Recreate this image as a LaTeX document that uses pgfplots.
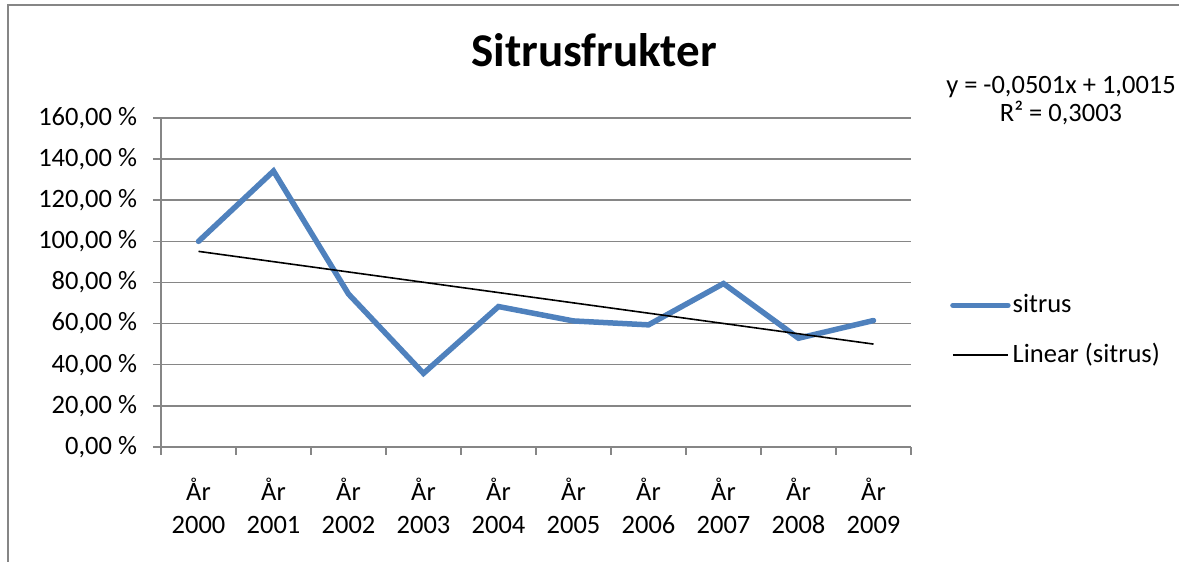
\documentclass[border=0pt]{standalone}
\usepackage{fontspec}
\setmainfont{Carlito}
\usepackage{pgfplots}
\pgfplotsset{compat=1.18}
\definecolor{exblue}{HTML}{4F81BD}
\definecolor{exgray}{HTML}{868686}
\begin{document}
\fontsize{26.5pt}{31pt}\selectfont
\begin{tikzpicture}[x=1pt,y=1pt]
\useasboundingbox (0,0) rectangle (1179,562);
\draw[exgray, line width=2pt] (8,0) -- (8,557) -- (1179,557);
\node[font=\fontsize{47pt}{56pt}\selectfont\bfseries, anchor=base] at (594,495) {Sitrusfrukter};
\node[anchor=base] at (1061,468) {y = -0,0501x + 1,0015};
\node[anchor=base] at (1061,440.5) {R² = 0,3003};
\begin{axis}[
  at={(161pt,115pt)}, anchor=south west,
  scale only axis, width=750pt, height=329pt,
  xmin=0.5, xmax=10.5, ymin=0, ymax=160,
  axis x line=bottom, axis y line=left,
  axis line style={exgray, line width=1.5pt, -},
  xtick={0.5,1.5,...,10.5}, xticklabels={},
  extra x ticks={1,2,3,4,5,6,7,8,9,10},
  extra x tick labels={{År\\2000},{År\\2001},{År\\2002},{År\\2003},{År\\2004},{År\\2005},{År\\2006},{År\\2007},{År\\2008},{År\\2009}},
  extra x tick style={major tick length=0pt},
  x tick label style={align=center, yshift=-22pt, font=\fontsize{26.5pt}{33pt}\selectfont},
  ytick={0,20,...,160},
  yticklabels={{0,00 \%},{20,00 \%},{40,00 \%},{60,00 \%},{80,00 \%},{100,00 \%},{120,00 \%},{140,00 \%},{160,00 \%}},
  y tick label style={xshift=-7pt, font=\fontsize{26.5pt}{31pt}\selectfont},
  ymajorgrids, grid style={exgray, line width=1.5pt},
  tick align=outside, major tick length=8pt,
  tick style={exgray, line width=1.5pt},
  legend style={at={(1.052,0.354)}, anchor=west, draw=none, fill=none,
    font=\fontsize{26.5pt}{31pt}\selectfont, row sep=23pt, inner sep=0pt},
  legend cell align=left,
  legend image code/.code={\draw[#1] (0pt,0pt) -- (55pt,0pt);},
]
\addplot[exblue, line width=5.5pt, line cap=round] coordinates {
  (1,100.0) (2,134.2) (3,74.4) (4,35.8) (5,68.3)
  (6,61.3) (7,59.4) (8,79.5) (9,52.9) (10,61.5)
};
\addlegendentry{sitrus}
\addplot[black, line width=1.6pt] coordinates {
  (1,95.14) (10,50.05)
};
\addlegendentry{Linear (sitrus)}
\end{axis}
\end{tikzpicture}
\end{document}
